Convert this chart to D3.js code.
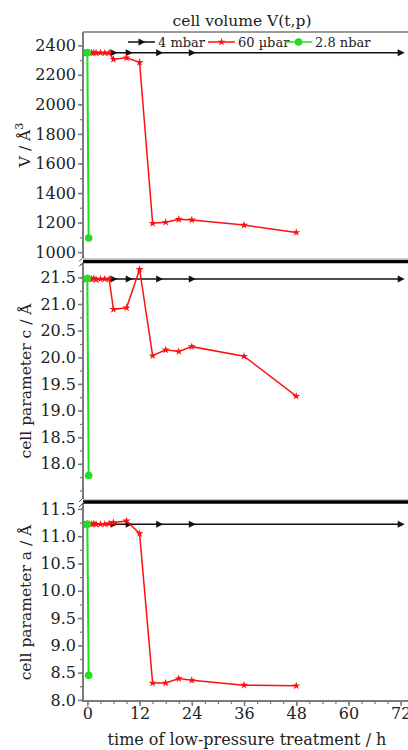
<!DOCTYPE html>
<html>
<head>
<meta charset="utf-8">
<script src="https://cdn.jsdelivr.net/npm/d3@7"></script>
<style>
  body { margin: 0; background: #fff; }
  svg { display: block; font-family: "DejaVu Serif", "Liberation Serif", serif; }
</style>
</head>
<body>
<svg id="chart"></svg>
<script>
const width = 408;
const height = 750;

// 4 mbar
const hours4 = [0, 6, 9.5, 16.5, 24, 72];
const vol4 = [2350, 2350, 2350, 2350, 2350, 2350];
const c4 = [21.47, 21.47, 21.47, 21.47, 21.47, 21.47];
const a4 = [11.22, 11.22, 11.22, 11.22, 11.22, 11.22];

// 60 µbar
const hours60 = [0, 0.5, 1, 1.5, 2, 3, 4, 5, 6, 9, 12, 15, 18, 21, 24, 36, 48];
const vol60 = [2352, 2350, 2349, 2350, 2349, 2350, 2348, 2349, 2305, 2315, 2285, 1195, 1202, 1222, 1218, 1183, 1133];
const c60 = [21.48, 21.47, 21.47, 21.48, 21.46, 21.47, 21.47, 21.47, 20.90, 20.93, 21.65, 20.03, 20.14, 20.11, 20.20, 20.02, 19.27];
const a60 = [11.23, 11.22, 11.22, 11.23, 11.22, 11.22, 11.22, 11.23, 11.25, 11.28, 11.05, 8.31, 8.31, 8.39, 8.36, 8.27, 8.26];

// 2.8 nbar
const hoursG = [0, 0.3];
const volG = [2350, 1095];
const cG = [21.48, 17.78];
const aG = [11.22, 8.45];

const xTicks = [0, 12, 24, 36, 48, 60, 72];
const volTicks = [1000, 1200, 1400, 1600, 1800, 2000, 2200, 2400];
const cTicks = [18.0, 18.5, 19.0, 19.5, 20.0, 20.5, 21.0, 21.5];
const aTicks = [8.0, 8.5, 9.0, 9.5, 10.0, 10.5, 11.0, 11.5];

const series = [
    { name: '4 mbar', color: '#111', hours: hours4, vals: [vol4, c4, a4], marker: 'arrow' },
    { name: '60 \u00b5bar', color: '#ff1010', hours: hours60, vals: [vol60, c60, a60], marker: 'star' },
    { name: '2.8 nbar', color: '#22dd22', hours: hoursG, vals: [volG, cG, aG], marker: 'circle' }
];

const left = 83;
const axisColor = '#7a7a7a';
const textColor = '#222';
const tickFont = 16;

const x = d3.scaleLinear().domain([-1, 74.6]).range([left, 412]);

const panels = [
    { y: d3.scaleLinear().domain([960, 2490]).range([258, 32]), ticks: volTicks, minor: 100, fmt: d3.format('d'), title: 'V / \u00c5', sup: '3' },
    { y: d3.scaleLinear().domain([17.34, 21.77]).range([499, 263]), ticks: cTicks, minor: 0.25, fmt: d3.format('.1f'), title: 'cell parameter c / \u00c5' },
    { y: d3.scaleLinear().domain([7.98, 11.59]).range([701, 504]), ticks: aTicks, minor: 0.25, fmt: d3.format('.1f'), title: 'cell parameter a / \u00c5' }
];

const svg = d3.select('#chart').attr('width', width).attr('height', height);

const drawMarker = (g, type, color) => {
    if (type === 'arrow') {
        g.append('path').attr('d', 'M-3,-3.5L4,0L-3,3.5Z').attr('fill', color);
    } else if (type === 'star') {
        g.append('path').attr('d', d3.symbol(d3.symbolStar, 20)()).attr('fill', color);
    } else {
        g.append('circle').attr('r', 3.8).attr('fill', color);
    }
};

panels.forEach((p, i) => {
    const g = svg.append('g');
    const [yBottom, yTop] = p.y.range();

    // minor ticks
    const [d0, d1] = p.y.domain();
    const minorVals = d3.range(Math.ceil(d0 / p.minor) * p.minor, d1, p.minor);
    g.append('g')
        .attr('transform', `translate(${left},0)`)
        .call(d3.axisLeft(p.y).tickValues(minorVals).tickSize(3).tickFormat(''))
        .call(a => a.select('.domain').remove())
        .selectAll('line').attr('stroke', axisColor).attr('stroke-width', 1.2);

    const ax = g.append('g')
        .attr('transform', `translate(${left},0)`)
        .call(d3.axisLeft(p.y).tickValues(p.ticks).tickSize(5).tickPadding(2).tickFormat(p.fmt));
    ax.select('.domain').remove();
    ax.selectAll('line').attr('stroke', axisColor).attr('stroke-width', 1.5);
    ax.selectAll('text').attr('font-size', tickFont).attr('fill', textColor)
        .attr('font-family', '"DejaVu Serif", serif');

    // left axis line
    g.append('line')
        .attr('x1', left).attr('x2', left).attr('y1', yBottom).attr('y2', yTop)
        .attr('stroke', axisColor).attr('stroke-width', 2);

    // axis title
    const t = g.append('text')
        .attr('transform', `translate(${i === 0 ? 30 : 31},${(yBottom + yTop) / 2}) rotate(-90)`)
        .attr('text-anchor', 'middle')
        .attr('font-size', 15.5)
        .attr('fill', textColor)
        .text(p.title);
    if (p.sup) t.append('tspan').attr('dy', -7).attr('font-size', 11).text(p.sup);

    // series
    const yi = p.y;
    series.forEach(s => {
        const pts = s.hours.map((h, k) => [x(h), yi(s.vals[i][k])]);
        g.append('path')
            .attr('d', d3.line()(pts))
            .attr('fill', 'none')
            .attr('stroke', s.color)
            .attr('stroke-width', s.marker === 'circle' ? 2 : 1.5);
        pts.forEach(pt => {
            const m = g.append('g').attr('transform', `translate(${pt[0]},${pt[1]})`);
            drawMarker(m, s.marker, s.color);
        });
    });
});

// top frame line
svg.append('line')
    .attr('x1', left).attr('x2', width).attr('y1', 32).attr('y2', 32)
    .attr('stroke', axisColor).attr('stroke-width', 1.5);

// panel separators with breaks
[[258.5, 261.5], [499.5, 502]].forEach(([gy, by]) => {
    svg.append('line')
        .attr('x1', left).attr('x2', width).attr('y1', gy).attr('y2', gy)
        .attr('stroke', '#c8c8c8').attr('stroke-width', 1);
    svg.append('line')
        .attr('x1', left).attr('x2', width).attr('y1', by).attr('y2', by)
        .attr('stroke', '#000').attr('stroke-width', 3.5);
    [-2.5, 2.5].forEach(dy => {
        svg.append('line')
            .attr('x1', left - 4).attr('x2', left + 1)
            .attr('y1', by + dy + 2.5).attr('y2', by + dy - 2.5)
            .attr('stroke', '#555').attr('stroke-width', 1);
    });
});

// bottom x axis
const xMinor = d3.range(0, 75, 3);
svg.append('g')
    .attr('transform', 'translate(0,701)')
    .call(d3.axisBottom(x).tickValues(xMinor).tickSize(3).tickFormat(''))
    .call(a => a.select('.domain').remove())
    .selectAll('line').attr('stroke', axisColor).attr('stroke-width', 1.2);
const xa = svg.append('g')
    .attr('transform', 'translate(0,701)')
    .call(d3.axisBottom(x).tickValues(xTicks).tickSize(5).tickPadding(2).tickFormat(d3.format('d')));
xa.select('.domain').remove();
xa.selectAll('line').attr('stroke', axisColor).attr('stroke-width', 1.5);
xa.selectAll('text').attr('font-size', tickFont).attr('fill', textColor)
    .attr('font-family', '"DejaVu Serif", serif');
svg.append('line')
    .attr('x1', left - 1).attr('x2', width).attr('y1', 701).attr('y2', 701)
    .attr('stroke', axisColor).attr('stroke-width', 2);

svg.append('text')
    .attr('x', 247).attr('y', 745)
    .attr('text-anchor', 'middle')
    .attr('font-size', 16)
    .attr('fill', textColor)
    .text('time of low-pressure treatment / h');

// title
svg.append('text')
    .attr('x', 242).attr('y', 26)
    .attr('text-anchor', 'middle')
    .attr('font-size', 15.5)
    .attr('fill', textColor)
    .text('cell volume V(t,p)');

// legend
const legendX = [128, 208, 285];
const legend = svg.append('g');
series.forEach((s, k) => {
    const lg = legend.append('g').attr('transform', `translate(${legendX[k]},42)`);
    lg.append('line').attr('x1', 0).attr('x2', 27).attr('stroke', s.color).attr('stroke-width', 1.5);
    drawMarker(lg.append('g').attr('transform', 'translate(13.5,0)'), s.marker, s.color);
    lg.append('text').attr('x', 30).attr('y', 4.5)
        .attr('font-size', 13).attr('fill', textColor).text(s.name);
});
</script>
</body>
</html>
